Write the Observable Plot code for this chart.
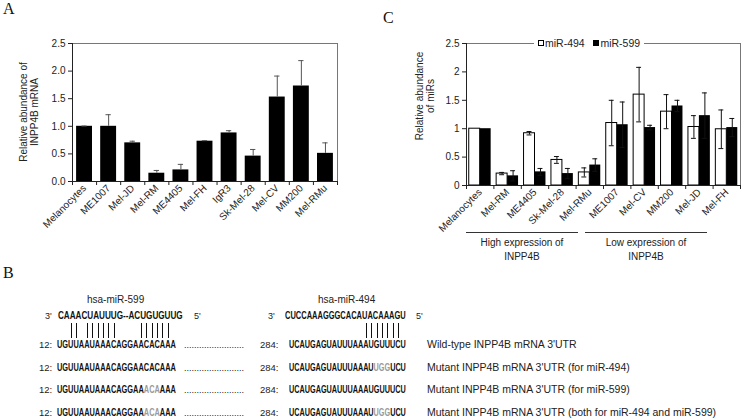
<!DOCTYPE html>
<html><head><meta charset="utf-8">
<script src="https://cdn.jsdelivr.net/npm/d3@7"></script>
<script src="https://cdn.jsdelivr.net/npm/@observablehq/plot@0.6"></script>
<style>
body{margin:0;background:#fff;}
#root{position:relative;width:744px;height:418px;overflow:hidden;font-family:"Liberation Sans",Arial,sans-serif;color:#222;}
.abs{position:absolute;}
.letter{font-family:"Liberation Serif","Times New Roman",serif;font-size:16px;color:#111;}
.ytitle{position:absolute;transform:translate(-50%,-50%) rotate(-90deg);text-align:center;white-space:nowrap;font-size:10px;line-height:11px;}
.grp{position:absolute;text-align:center;font-size:10px;line-height:14px;border-top:1px solid #333;padding-top:3px;}
.legend{position:absolute;background:#fff;font-size:10.5px;line-height:12px;padding:0 4px;white-space:nowrap;}
.sq{display:inline-block;width:6px;height:6px;border:1px solid #000;margin-right:1px;vertical-align:1px;box-sizing:border-box;}
</style></head>
<body><div id="root"></div>
<script>
// ---- Panel A data ----
const catsA = ["Melanocytes","ME1007","Mel-JD","Mel-RM","ME4405","Mel-FH","IgR3","Sk-Mel-28","Mel-CV","MM200","Mel-RMu"];
const valA  = [1.00,1.00,0.70,0.15,0.21,0.73,0.88,0.46,1.53,1.73,0.51];
const errA  = [0.005,0.21,0.03,0.05,0.10,0.01,0.04,0.12,0.38,0.46,0.19];
const ticksA = [0,0.5,1,1.5,2,2.5];

// ---- Panel C data ----
const catsC  = ["Melanocytes","Mel-RM","ME4405","Sk-Mel-28","Mel-RMu","ME1007","Mel-CV","MM200","Mel-JD","Mel-FH"];
const mir494 = [1.00,0.21,0.92,0.45,0.23,1.10,1.60,1.30,1.03,0.99];
const err494 = [0.00,0.02,0.03,0.06,0.08,0.40,0.48,0.30,0.20,0.34];
const mir599 = [1.00,0.17,0.24,0.21,0.36,1.07,1.02,1.40,1.23,1.02];
const err599 = [0.00,0.09,0.06,0.09,0.11,0.40,0.04,0.10,0.40,0.16];
const ticksC = [0,0.5,1,1.5,2,2.5];
const groupsC = ["High expression of\nINPP4B","Low expression of\nINPP4B"];

// ---- Panel B data ----
const mir599seq = "CAAACUAUUUG--ACUGUGUUG";
const mir494seq = "CUCCAAAGGGCACAUACAAAGU";
const pairs599 = [2,3,5,6,7,8,9,10,15,16,17,18,19,20];
const pairs494 = [14,15,16,17,18,19,20];
const wt599 = [["UGUUAAUAAACAGGAACACAAA",0]];
const wt494 = [["UCAUGAGUAUUUAAAUGUUUCU",0]];
const mut599 = [["UGUUAAUAAACAGGAA",0],["ACA",1],["AAA",0]];
const mut494 = [["UCAUGAGUAUUUAAAU",0],["UGG",1],["UCU",0]];
const rowLabels = ["Wild-type INPP4B mRNA 3'UTR","Mutant INPP4B mRNA 3'UTR (for miR-494)","Mutant INPP4B mRNA 3'UTR (for miR-599)","Mutant INPP4B mRNA 3'UTR (both for miR-494 and miR-599)"];
const rowSeqs = [[wt599,wt494],[wt599,mut494],[mut599,wt494],[mut599,mut494]];

const root = document.getElementById("root");
const font = {fontFamily:"'Liberation Sans', Arial, sans-serif", fontSize:"10px", color:"#222", background:"transparent", overflow:"visible"};

// ---- Panel A ----
const rowsA = catsA.map((c,i)=>({i, c, v:valA[i], e:errA[i]}));
const plotA = Plot.plot({
  width:345, height:240, marginLeft:72, marginRight:8, marginTop:43, marginBottom:59,
  x:{domain:[0,11]}, y:{domain:[0,2.5]},
  style:font,
  marks:[
    Plot.frame({stroke:"#777"}),
    Plot.rect(rowsA,{x1:d=>d.i+0.17, x2:d=>d.i+0.83, y1:()=>0, y2:"v", fill:"#000"}),
    Plot.ruleX(rowsA,{x:d=>d.i+0.5, y1:"v", y2:d=>d.v+d.e, stroke:"#555"}),
    Plot.ruleY(rowsA,{y:d=>d.v+d.e, x1:d=>d.i+0.39, x2:d=>d.i+0.61, stroke:"#555"}),
    Plot.axisY({ticks:ticksA, tickFormat:d3.format(".1f"), tickSize:4, tickPadding:3, label:null}),
    Plot.axisX({ticks:rowsA.map(d=>d.i+0.5), tickFormat:t=>catsA[Math.floor(t)], tickSize:0, tickPadding:5, tickRotate:-45, label:null}),
    Plot.axisX({ticks:d3.range(0,12), tickFormat:()=>"", tickSize:4, label:null}),
    Plot.ruleX([0],{stroke:"#222"}),
    Plot.ruleY([0],{stroke:"#222"})
  ]
});
plotA.style.position="absolute"; plotA.style.left="0px"; plotA.style.top="0px";
root.appendChild(plotA);

// ---- Panel C ----
const rowsC = catsC.map((c,i)=>({i, c, a:mir494[i], ea:err494[i], b:mir599[i], eb:err599[i]}));
const errC = rowsC.flatMap(d=>[{x:d.i+0.3, v:d.a, e:d.ea},{x:d.i+0.7, v:d.b, e:d.eb}]).filter(d=>d.e>0);
const plotC = Plot.plot({
  width:404, height:240, marginLeft:126, marginRight:4, marginTop:43, marginBottom:55,
  x:{domain:[0,10]}, y:{domain:[0,2.5]},
  style:font,
  marks:[
    Plot.ruleX([10],{stroke:"#777"}),
    Plot.ruleY([2.5],{stroke:"#777"}),
    Plot.rect(rowsC,{x1:d=>d.i+0.1, x2:d=>d.i+0.5, y1:()=>0, y2:"a", fill:"#fff", stroke:"#000", strokeWidth:1}),
    Plot.rect(rowsC,{x1:d=>d.i+0.5, x2:d=>d.i+0.9, y1:()=>0, y2:"b", fill:"#000"}),
    Plot.ruleX(errC,{x:"x", y1:d=>d.v-d.e, y2:d=>d.v+d.e, stroke:"#111"}),
    Plot.ruleY(errC,{y:d=>d.v+d.e, x1:d=>d.x-0.09, x2:d=>d.x+0.09, stroke:"#111"}),
    Plot.ruleY(errC,{y:d=>d.v-d.e, x1:d=>d.x-0.09, x2:d=>d.x+0.09, stroke:"#111"}),
    Plot.axisY({ticks:ticksC, tickFormat:d=>String(d), tickSize:4, tickPadding:3, label:null}),
    Plot.axisX({ticks:rowsC.map(d=>d.i+0.5), tickFormat:t=>catsC[Math.floor(t)], tickSize:0, tickPadding:5, tickRotate:-45, label:null}),
    Plot.axisX({ticks:d3.range(0,11), tickFormat:()=>"", tickSize:4, label:null}),
    Plot.ruleX([0],{stroke:"#222"}),
    Plot.ruleY([0],{stroke:"#222"})
  ]
});
plotC.style.position="absolute"; plotC.style.left="340px"; plotC.style.top="0px";
root.appendChild(plotC);

// ---- HTML annotations ----
function div(cls, html, css){const d=document.createElement("div"); d.className=cls; d.innerHTML=html; Object.assign(d.style,css); root.appendChild(d); return d;}
div("abs letter","A",{left:"3px",top:"0px"});
div("abs letter","B",{left:"3px",top:"264px"});
div("abs letter","C",{left:"383px",top:"9px"});
div("ytitle","Relative abundance of<br>INPP4B mRNA",{left:"29px",top:"112px"});
div("ytitle","Relative abundance<br>of miRs",{left:"425px",top:"96px"});
div("legend",'<span class="sq" style="background:#fff"></span>miR-494&nbsp;&nbsp;&nbsp;<span class="sq" style="background:#000"></span>miR-599',{left:"534px",top:"37px"});
div("grp",groupsC[0].replace("\n","<br>"),{left:"466px",top:"232px",width:"112px"});
div("grp",groupsC[1].replace("\n","<br>"),{left:"585px",top:"232px",width:"122px"});

// ---- Panel B (sequence diagram) ----
const NS="http://www.w3.org/2000/svg";
const svgB=document.createElementNS(NS,"svg");
svgB.setAttribute("width","744"); svgB.setAttribute("height","133");
Object.assign(svgB.style,{position:"absolute",left:"0px",top:"285px",fontFamily:"'Liberation Sans', Arial, sans-serif"});
root.appendChild(svgB);
function txt(x,y,s,opt={}){
  const t=document.createElementNS(NS,"text");
  t.setAttribute("font-size",opt.size||10);
  if(opt.bold) t.setAttribute("font-weight","bold");
  t.setAttribute("fill",opt.fill||"#222");
  if(Array.isArray(s)){
    s.forEach(([seg,gray])=>{const ts=document.createElementNS(NS,"tspan"); ts.textContent=seg; ts.setAttribute("fill",gray?"#9a9a9a":"#111"); t.appendChild(ts);});
  } else t.textContent=s;
  svgB.appendChild(t);
  if(opt.len){
    t.setAttribute("x",0); t.setAttribute("y",0);
    const w=t.getComputedTextLength();
    t.setAttribute("transform",`translate(${x},${y}) scale(${opt.len/w},1)`);
  } else { t.setAttribute("x",x); t.setAttribute("y",y); }
  return t;
}
function line(x,y1,y2){const l=document.createElementNS(NS,"line");l.setAttribute("x1",x);l.setAttribute("x2",x);l.setAttribute("y1",y1);l.setAttribute("y2",y2);l.setAttribute("stroke","#111");l.setAttribute("stroke-width","1");svgB.appendChild(l);}
txt(87,18,"hsa-miR-599",{size:10});
txt(318,18,"hsa-miR-494",{size:10});
txt(45,34,"3'",{size:9});
txt(58,34,mir599seq,{size:10.5,bold:true,len:125,fill:"#111"});
txt(194,34,"5'",{size:9});
txt(268,34,"3'",{size:9});
txt(285,34,mir494seq,{size:10.5,bold:true,len:121,fill:"#111"});
txt(416,34,"5'",{size:9});
const cw599=119/22, cw494=117/22;
pairs599.forEach(k=>line(Math.round(57+(k+0.5)*cw599)+0.5,38,53));
pairs494.forEach(k=>line(Math.round(289+(k+0.5)*cw494)+0.5,38,53));
const rowY=[63,86,108,131];
rowSeqs.forEach(([l,r],j)=>{
  const y=rowY[j];
  txt(39,y,"12:",{size:9.5});
  txt(57,y,l,{size:10.5,bold:true,len:119});
  txt(184,y,"........................",{size:9});
  txt(260,y,"284:",{size:9.5});
  txt(289,y,r,{size:10.5,bold:true,len:117});
  txt(427,y,rowLabels[j],{size:10.5});
});
</script></body></html>
